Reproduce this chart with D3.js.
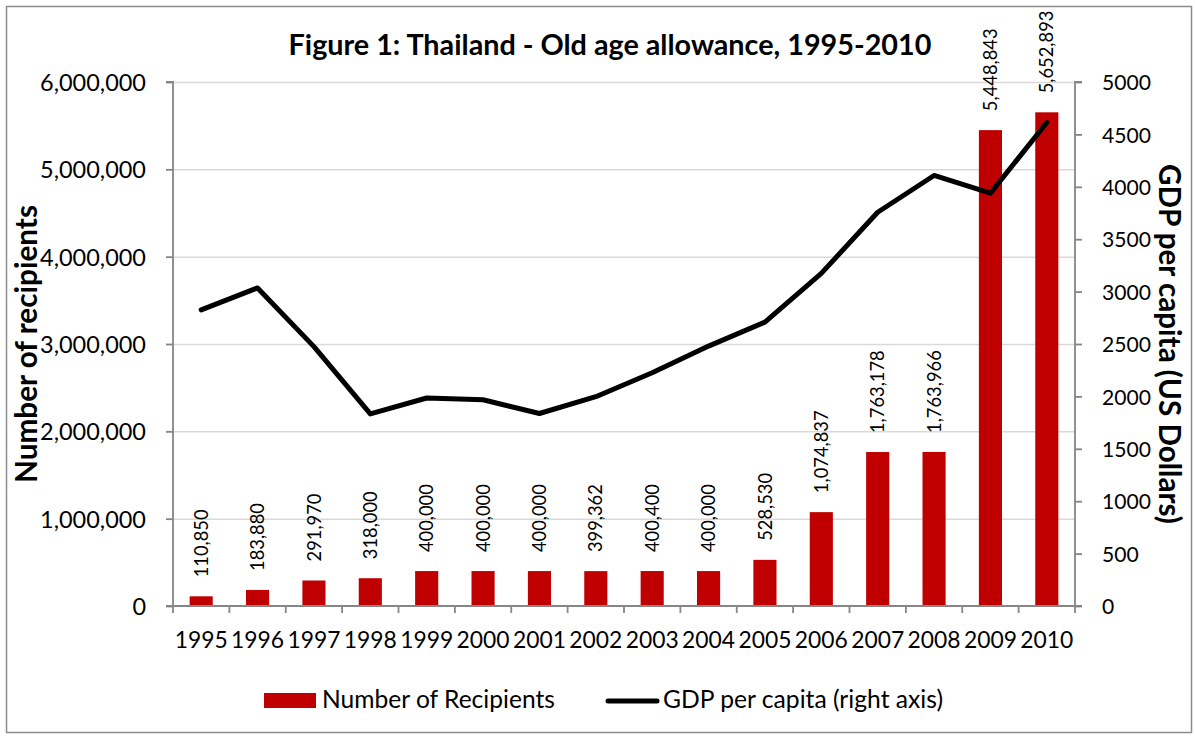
<!DOCTYPE html>
<html>
<head>
<meta charset="utf-8">
<script src="https://cdn.jsdelivr.net/npm/d3@7"></script>
<style>
  html, body { margin: 0; padding: 0; background: #fff; }
  svg { display: block; font-family: Lato, "Open Sans", sans-serif; }
</style>
</head>
<body>
<svg id="chart" width="1195" height="738"></svg>
<script>
const years = ["1995","1996","1997","1998","1999","2000","2001","2002","2003","2004","2005","2006","2007","2008","2009","2010"];
const recipients = [110850,183880,291970,318000,400000,400000,400000,399362,400400,400000,528530,1074837,1763178,1763966,5448843,5652893];
const gdpPerCapita = [2826,3035,2475,1833,1985,1968,1837,1997,2225,2480,2709,3174,3757,4108,3939,4614];
const leftTicks = [0,1000000,2000000,3000000,4000000,5000000,6000000];
const rightTicks = [0,500,1000,1500,2000,2500,3000,3500,4000,4500,5000];
const titleText = "Figure 1: Thailand - Old age allowance, 1995-2010";
const leftTitle = "Number of recipients";
const rightTitle = "GDP per capita (US Dollars)";
const legendBar = "Number of Recipients";
const legendLine = "GDP per capita (right axis)";

const svg = d3.select("#chart");
const m = {left: 173, right: 1075, top: 82, bottom: 606};
const axisColor = "#868686", gridColor = "#D9D9D9", barColor = "#C00000";

function fitSize(sel, w) {
  const fs = parseFloat(sel.attr("font-size"));
  const l = sel.node().getComputedTextLength();
  return fs * w / l;
}
function fit(sel, w) {
  sel.attr("font-size", fitSize(sel, w).toFixed(2));
  return sel;
}

// outer border
svg.append("rect").attr("x", 6.5).attr("y", 6.5).attr("width", 1185).attr("height", 726)
  .attr("fill", "#fff").attr("stroke", "#8c8c8c").attr("stroke-width", 1.5);

const xBand = d3.scaleBand().domain(years).range([m.left, m.right]).paddingInner(0.59).paddingOuter(0.295);
const xCat = d3.scaleBand().domain(years).range([m.left, m.right]).padding(0);
const yL = d3.scaleLinear().domain([0, 6000000]).range([m.bottom, m.top]);
const yR = d3.scaleLinear().domain([0, 5000]).range([m.bottom, m.top]);

// gridlines
svg.append("g").selectAll("line").data(leftTicks.slice(1)).join("line")
  .attr("x1", m.left).attr("x2", m.right)
  .attr("y1", d => yL(d) + 0.5).attr("y2", d => yL(d) + 0.5)
  .attr("stroke", gridColor).attr("stroke-width", 1.5);

// bars
svg.append("g").selectAll("rect").data(recipients).join("rect")
  .attr("x", (d, i) => xBand(years[i]))
  .attr("width", xBand.bandwidth())
  .attr("y", d => yL(d))
  .attr("height", d => yL(0) - yL(d))
  .attr("fill", barColor);

// bar labels
const fmt = d3.format(",");
const bl = svg.append("g").selectAll("text").data(recipients).join("text")
  .attr("transform", (d, i) => `translate(${xBand(years[i]) + xBand.bandwidth() / 2},${yL(d) - 19}) rotate(-90)`)
  .attr("text-anchor", "start")
  .attr("dy", "0.36em")
  .attr("font-size", 18.5)
  .attr("fill", "#000")
  .text(d => fmt(d));
bl.attr("font-size", fitSize(d3.select(bl.nodes()[0]), 68).toFixed(2));

// left axis
const gL = svg.append("g").attr("transform", `translate(${m.left},0)`)
  .call(d3.axisLeft(yL).tickValues(leftTicks).tickFormat(fmt).tickSize(7).tickPadding(20));
// bottom axis
const gB = svg.append("g").attr("transform", `translate(0,${m.bottom})`)
  .call(d3.axisBottom(xCat).tickSize(0).tickPadding(20));
const bounds = years.map(y => xCat(y)).concat([m.right]);
gB.selectAll("line.bt").data(bounds).join("line").attr("class", "bt")
  .attr("x1", d => d).attr("x2", d => d).attr("y1", 0).attr("y2", 7);
// right axis
const gR = svg.append("g").attr("transform", `translate(${m.right},0)`)
  .call(d3.axisRight(yR).tickValues(rightTicks).tickFormat(d3.format("d")).tickSize(7).tickPadding(20));

[gL, gB, gR].forEach(g => {
  g.select(".domain").attr("stroke", axisColor).attr("stroke-width", 1.8);
  g.selectAll("line").attr("stroke", axisColor).attr("stroke-width", 1.8);
  g.selectAll("text").attr("font-family", "Lato").attr("fill", "#000");
});
gL.select(".domain").attr("d", `M-7,${m.top}H0V${m.bottom}H-7`);
gR.select(".domain").attr("d", `M7,${m.top}H0V${m.bottom}H7`);
gB.select(".domain").attr("d", `M${m.left},0H${m.right}`);

const lTexts = gL.selectAll(".tick text").attr("font-size", 23.5).attr("dy", "0.36em");
lTexts.attr("font-size", fitSize(d3.select(lTexts.nodes()[lTexts.size() - 1]), 106).toFixed(2));
const rTexts = gR.selectAll(".tick text").attr("font-size", 21.5).attr("dy", "0.36em").attr("x", 27);
rTexts.attr("font-size", fitSize(d3.select(rTexts.nodes()[rTexts.size() - 1]), 49).toFixed(2));
const bTexts = gB.selectAll(".tick text").attr("font-size", 22.4).attr("dy", 0).attr("y", 42);
bTexts.attr("font-size", fitSize(d3.select(bTexts.nodes()[0]), 53).toFixed(2));

// GDP line
const line = d3.line().x((d, i) => xCat(years[i]) + xCat.bandwidth() / 2).y(d => yR(d));
svg.append("path").datum(gdpPerCapita).attr("d", line)
  .attr("fill", "none").attr("stroke", "#000").attr("stroke-width", 5)
  .attr("stroke-linejoin", "round").attr("stroke-linecap", "round");

// title
const t = svg.append("text").attr("x", 610).attr("y", 55).attr("text-anchor", "middle")
  .attr("font-weight", "bold").attr("font-size", 26).text(titleText);
fit(t, 643);

// axis titles
const lt = svg.append("text").attr("transform", "translate(37,344) rotate(-90)")
  .attr("text-anchor", "middle").attr("font-weight", "bold").attr("font-size", 26).text(leftTitle);
fit(lt, 278);
const rt = svg.append("text").attr("transform", "translate(1159,344) rotate(90)")
  .attr("text-anchor", "middle").attr("font-weight", "bold").attr("font-size", 26).text(rightTitle);
fit(rt, 360);

// legend
const lg = svg.append("g");
lg.append("rect").attr("x", 264).attr("y", 693).attr("width", 52).attr("height", 15).attr("fill", barColor);
const l1 = lg.append("text").attr("x", 322).attr("y", 708).attr("font-size", 22).text(legendBar);
fit(l1, 233);
lg.append("line").attr("x1", 608).attr("x2", 657).attr("y1", 701).attr("y2", 701)
  .attr("stroke", "#000").attr("stroke-width", 5).attr("stroke-linecap", "round");
const l2 = lg.append("text").attr("x", 663).attr("y", 708).attr("font-size", 22).text(legendLine);
fit(l2, 280);
</script>
</body>
</html>
